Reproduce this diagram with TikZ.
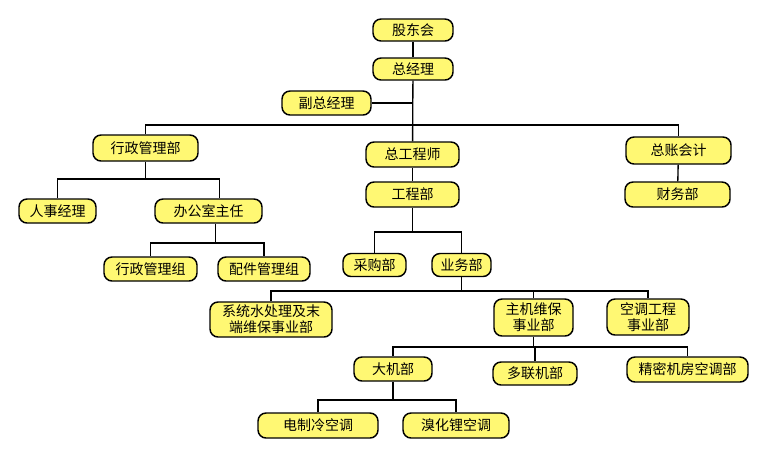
\documentclass[tikz,border=0pt]{standalone}
\usepackage{fontspec}
\setmainfont{Noto Sans CJK SC}
\begin{document}
\begin{tikzpicture}[x=0.75pt,y=-0.75pt,
  box/.style 2 args={draw=black,line width=1.1pt,fill=yellow!55!white,rounded corners=6pt,
    minimum width=#1*0.75pt,minimum height=#2*0.75pt,inner sep=0pt,align=center,
    font=\fontsize{10.5}{12}\selectfont},
  ln/.style={line width=1pt}]
\useasboundingbox (0,0) rectangle (757,451);
\node[box={80}{22}] (gd) at (413,30) {股东会};
\node[box={80}{22}] (zjl) at (413,69) {总经理};
\node[box={89}{24}] (fz) at (326.5,103) {副总经理};
\node[box={105}{26}] (xz) at (145.5,148) {行政管理部};
\node[box={93}{25}] (zgc) at (412.5,154.5) {总工程师};
\node[box={105}{27}] (zz) at (678.5,150.5) {总账会计};
\node[box={105}{25}] (cw) at (677.5,194.5) {财务部};
\node[box={93}{25}] (gcb) at (412.5,194.5) {工程部};
\node[box={77}{24}] (rs) at (57.5,211) {人事经理};
\node[box={107}{24}] (bgs) at (208.5,211) {办公室主任};
\node[box={93}{24}] (xzz) at (150.5,269) {行政管理组};
\node[box={92}{24}] (pj) at (264,269) {配件管理组};
\node[box={63}{23}] (cg) at (374.5,265) {采购部};
\node[box={59}{23}] (yw) at (461.5,265) {业务部};
\node[box={122}{35}] (xt) at (271,319.5) {系统水处理及末\\端维保事业部};
\node[box={79}{37}] (zj) at (533.5,317.5) {主机维保\\事业部};
\node[box={82}{36}] (kt) at (648,317) {空调工程\\事业部};
\node[box={78}{24}] (dj) at (393,369) {大机部};
\node[box={84}{23}] (dl) at (535,373.5) {多联机部};
\node[box={121}{25}] (jm) at (687.5,369.5) {精密机房空调部};
\node[box={120}{25}] (dz) at (318,425.5) {电制冷空调};
\node[box={106}{25}] (xh) at (456,425.5) {溴化锂空调};
\coordinate (b1) at (0,125);
\coordinate (b2) at (0,179);
\coordinate (b3) at (0,243);
\coordinate (b4) at (0,232);
\coordinate (b5) at (0,291);
\coordinate (b6) at (0,347);
\coordinate (b7) at (0,400);
\begin{scope}[on background layer/.style={}]
\draw[ln] (gd) -- (zjl);
\draw[ln] (zjl) -- (zgc);
\draw[ln] (fz.east) -- (fz.east -| zjl.south);
\draw[ln] (xz.north) -- (xz.north |- b1) -- (zz.north |- b1) -- (zz.north);
\draw[ln] (zgc) -- (gcb);
\draw[ln] (zz) -- (cw);
\draw[ln] (xz.south) -- (xz.south |- b2);
\draw[ln] (rs.north) -- (rs.north |- b2) -- ([xshift=8pt]bgs.north |- b2) -- ([xshift=8pt]bgs.north);
\draw[ln] (bgs.south) ++(5pt,0) coordinate (bs) -- (bs |- b3);
\draw[ln] (xzz.north) -- (xzz.north |- b3) -- (pj.north |- b3) -- (pj.north);
\draw[ln] (gcb.south) -- (gcb.south |- b4);
\draw[ln] (cg.north) -- (cg.north |- b4) -- (yw.north |- b4) -- (yw.north);
\draw[ln] (yw.south) -- (yw.south |- b5);
\draw[ln] (xt.north) -- (xt.north |- b5) -- (kt.north |- b5) -- (kt.north);
\draw[ln] (zj.north) -- (zj.north |- b5);
\draw[ln] (zj.south) -- (zj.south |- b6);
\draw[ln] (dj.north) -- (dj.north |- b6) -- (jm.north |- b6) -- (jm.north);
\draw[ln] (dl.north) -- (dl.north |- b6);
\draw[ln] (dj.south) -- (dj.south |- b7);
\draw[ln] (dz.north) -- (dz.north |- b7) -- (xh.north |- b7) -- (xh.north);
\end{scope}
\end{tikzpicture}
\end{document}
